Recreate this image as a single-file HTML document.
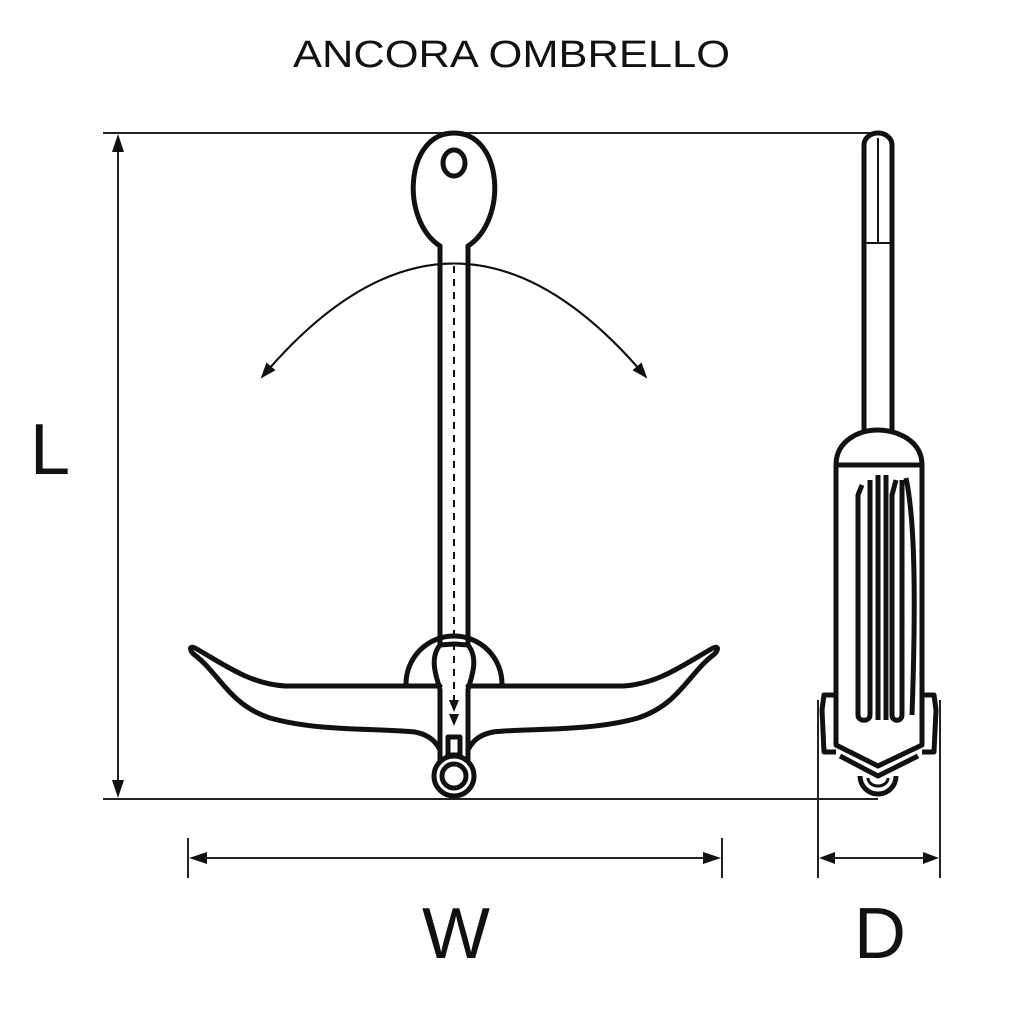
<!DOCTYPE html>
<html><head><style>
html,body{margin:0;padding:0;background:#fff;}
svg{display:block;}
text{font-family:"Liberation Sans",sans-serif;fill:#111;}
</style></head><body>
<svg width="1024" height="1024" viewBox="0 0 1024 1024" xmlns="http://www.w3.org/2000/svg">
<defs>
<marker id="ah" markerWidth="16" markerHeight="12" refX="14" refY="6" orient="auto" markerUnits="userSpaceOnUse">
<path d="M0,0 L16,6 L0,12 Z" fill="#111"/></marker>
</defs>
<rect width="1024" height="1024" fill="#fff"/>
<text x="293" y="67" font-size="38" textLength="437" lengthAdjust="spacingAndGlyphs">ANCORA OMBRELLO</text>
<text x="50" y="474" font-size="72" text-anchor="middle">L</text>
<text x="456" y="958" font-size="72" text-anchor="middle">W</text>
<text x="880" y="958" font-size="72" text-anchor="middle">D</text>

<g stroke="#222" stroke-width="2" fill="none">
<line x1="103" y1="133" x2="880" y2="133"/>
<line x1="103" y1="799" x2="878" y2="799"/>
<line x1="118" y1="150" x2="118" y2="782"/>
<line x1="188" y1="838" x2="188" y2="878"/>
<line x1="722" y1="838" x2="722" y2="878"/>
<line x1="818" y1="700" x2="818" y2="878"/>
<line x1="940" y1="700" x2="940" y2="878"/>
</g>
<g fill="#111">
<path d="M118,134 L112,152 L124,152 Z"/>
<path d="M118,798 L112,780 L124,780 Z"/>
<path d="M189,858 L207,852 L207,864 Z"/>
<path d="M721,858 L703,852 L703,864 Z"/>
<path d="M819,858 L835,852 L835,864 Z"/>
<path d="M939,858 L923,852 L923,864 Z"/>
</g>
<g stroke="#222" stroke-width="2">
<line x1="205" y1="858" x2="705" y2="858"/>
<line x1="833" y1="858" x2="925" y2="858"/>
</g>

<path d="M262,377 Q454,150 646,377" fill="none" stroke="#111" stroke-width="2" marker-end="url(#ah)"/>
<path d="M646,377 Q454,150 262,377" fill="none" stroke="#111" stroke-width="2" marker-end="url(#ah)"/>

<g stroke="#111" stroke-width="5" fill="none" stroke-linejoin="round" stroke-linecap="round">
<path d="M440,246 C400,220 405,133 454,133 C503,133 508,220 468,246"/>
<ellipse cx="454" cy="163" rx="11" ry="13"/>
<line x1="440" y1="246" x2="440" y2="645"/>
<line x1="468" y1="246" x2="468" y2="645"/>
<path d="M406,684 A48,48 0 0 1 502,684"/>
<path d="M420,686 L285,686 C250,684 225,665 195,648 C188,645 190,652 196,656 C220,675 230,705 270,718 C320,732 380,728 415,732 C430,735 436,742 440,750"/>
<path d="M488,686 L623,686 C658,684 683,665 713,648 C720,645 718,652 712,656 C688,675 678,705 638,718 C588,732 528,728 493,732 C478,735 472,742 468,750"/>
<path d="M440,645 L454,644 L468,645 C480,660 470,680 468,690 L468,760"/>
<path d="M440,690 C438,680 428,660 440,645"/>
<line x1="440" y1="690" x2="440" y2="760"/>
<line x1="420" y1="686" x2="440" y2="686"/>
<line x1="468" y1="686" x2="488" y2="686"/>
<rect x="448" y="737" width="12" height="18"/>
<circle cx="454" cy="776" r="20"/>
<circle cx="454" cy="776" r="12"/>
</g>
<line x1="454" y1="266" x2="454" y2="700" stroke="#111" stroke-width="2" stroke-dasharray="7,6"/>
<path d="M449,700 L454,712 L459,700 Z M449,714 L454,726 L459,714 Z" fill="#111"/>

<g stroke="#111" stroke-width="5" fill="none" stroke-linejoin="round">
<path d="M864,430 L864,145 A14,12 0 0 1 892,145 L892,430"/>
<line x1="878" y1="138" x2="878" y2="243" stroke-width="2"/>
<line x1="864" y1="243" x2="892" y2="243" stroke-width="2"/>
<path d="M836,465 C836,440 860,430 878,430 C896,430 922,440 922,465 Z"/>
<path d="M836,465 L836,745 L878,766 L922,745 L922,465"/>
<path d="M840,756 L878,776 L918,756"/>
<path d="M836,695 L824,695 L822,710 L824,752 L836,752"/>
<path d="M922,695 L934,695 L936,710 L934,752 L922,752"/>
<path d="M860,776 A18,18 0 0 0 896,776"/>
<path d="M868,778 A10,8 0 0 0 888,778" stroke-width="3"/>
<path d="M862,485 L858,495 L858,715 C858,722 870,722 870,715 L870,480"/>
<line x1="878" y1="475" x2="878" y2="720"/>
<line x1="886" y1="475" x2="886" y2="720"/>
<path d="M896,480 L892,495 L892,715 C892,722 902,722 902,715 L902,480"/>
<path d="M906,478 C915,520 916,600 912,715"/>
</g>
</svg>
</body></html>
